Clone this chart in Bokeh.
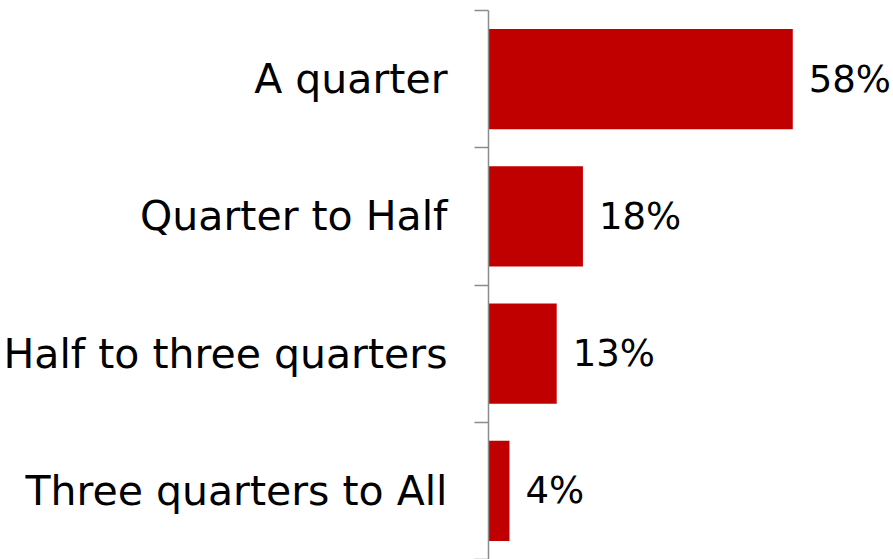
from bokeh.plotting import figure
from bokeh.models import ColumnDataSource, FixedTicker, Range1d
from bokeh.core.properties import value
from bokeh.embed import file_html
from bokeh.resources import INLINE

categories = ["A quarter", "Quarter to Half", "Half to three quarters", "Three quarters to All"]
values = [58, 18, 13, 4]

n = len(categories)
ypos = [n - 1 - i for i in range(n)]
labels = [f"{v}%" for v in values]

src = ColumnDataSource(dict(y=ypos, v=values, lab=labels, cat=categories))

FONT = "DejaVu Sans"

p = figure(width=893, height=559, output_backend="svg", toolbar_location=None,
           x_range=Range1d(0, 77.2), y_range=Range1d(-0.5, n - 0.5),
           min_border_top=10, min_border_bottom=0, min_border_right=0, min_border_left=0)

p.hbar(y="y", right="v", left=0, height=0.73, source=src, color="#C00000", line_color=None)
p.text(x="v", y="y", text="lab", source=src, x_offset=16, text_align="left",
       text_baseline="middle", text_font=value(FONT), text_font_size="37px", text_color="#000000")

p.xaxis.visible = False
p.xgrid.visible = False
p.ygrid.visible = False
p.outline_line_color = None

ax = p.yaxis[0]
ax.ticker = FixedTicker(ticks=ypos, minor_ticks=[i - 0.5 for i in range(n + 1)])
ax.major_label_overrides = {y: c for y, c in zip(ypos, categories)}
ax.major_tick_line_color = None
ax.major_tick_out = 0
ax.major_tick_in = 0
ax.minor_tick_out = 14
ax.minor_tick_in = 0
ax.minor_tick_line_color = "#8c8c8c"
ax.minor_tick_line_width = 1.5
ax.axis_line_color = "#8c8c8c"
ax.axis_line_width = 1.5
ax.major_label_standoff = 27
ax.major_label_text_font = FONT
ax.major_label_text_font_size = "41px"
ax.major_label_text_color = "#000000"
ax.major_label_text_font_style = "normal"

open("out.html", "w").write(file_html(p, INLINE))
